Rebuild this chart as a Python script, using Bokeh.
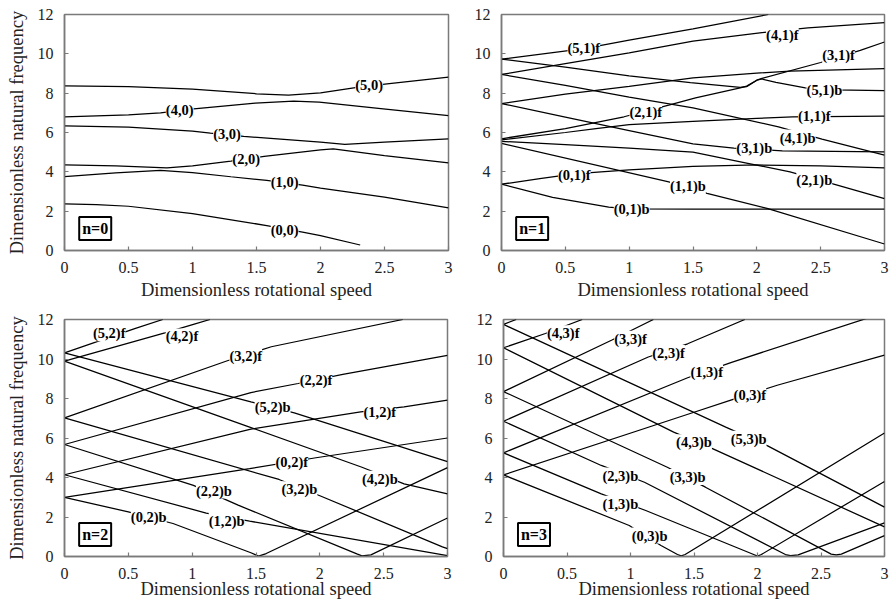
from bokeh.plotting import figure
from bokeh.models import Range1d, NumeralTickFormatter, ColumnDataSource, LabelSet, Label
from bokeh.layouts import row, column
from bokeh.embed import file_html
from bokeh.resources import INLINE

SERIF = "Liberation Serif"
FRAME = "#7a7a7a"

X_TICKS = [0, 0.5, 1, 1.5, 2, 2.5, 3]
Y_TICKS = [0, 2, 4, 6, 8, 10, 12]
X_TITLE = "Dimensionless rotational speed"
Y_TITLE = "Dimensionless natural frequency"

# ---------------- n = 0 ----------------
n0_00_x = [0, 0.25, 0.5, 1.0, 1.58, 1.86, 2.0, 2.31]
n0_00_y = [2.37, 2.33, 2.25, 1.87, 1.27, 0.93, 0.76, 0.28]
n0_10_x = [0, 0.4, 0.75, 1.0, 1.3, 1.58, 1.86, 2.0, 2.5, 3.0]
n0_10_y = [3.76, 3.95, 4.07, 3.96, 3.75, 3.56, 3.33, 3.17, 2.71, 2.17]
n0_20_x = [0, 0.4, 0.8, 1.0, 1.3, 1.56, 2.0, 2.1, 2.5, 3.0]
n0_20_y = [4.36, 4.3, 4.2, 4.3, 4.55, 4.78, 5.12, 5.17, 4.83, 4.46]
n0_30_x = [0, 0.5, 1.0, 1.14, 1.4, 2.0, 2.19, 2.5, 3.0]
n0_30_y = [6.34, 6.27, 6.07, 5.97, 5.8, 5.51, 5.39, 5.51, 5.68]
n0_40_x = [0, 0.5, 0.75, 1.01, 1.49, 1.79, 1.99, 2.49, 3.0]
n0_40_y = [6.8, 6.9, 7.0, 7.2, 7.49, 7.59, 7.54, 7.2, 6.86]
n0_50_x = [0, 0.5, 1.0, 1.5, 1.75, 2.0, 2.26, 2.52, 3.0]
n0_50_y = [8.37, 8.33, 8.2, 7.97, 7.9, 8.02, 8.27, 8.47, 8.81]
n0_lbl_text = ["(5,0)", "(4,0)", "(3,0)", "(2,0)", "(1,0)", "(0,0)"]
n0_lbl_x = [2.38, 0.9, 1.27, 1.42, 1.72, 1.72]
n0_lbl_y = [8.39, 7.12, 5.93, 4.63, 3.47, 1.05]

# ---------------- n = 1 ----------------
n1_51f_x = [0, 0.645, 1.0, 1.5, 2.09]
n1_51f_y = [9.73, 10.27, 10.7, 11.27, 12.0]
n1_41f_x = [0, 0.5, 1.0, 1.5, 2.04, 2.4, 3.0]
n1_41f_y = [8.95, 9.5, 10.05, 10.65, 11.08, 11.32, 11.59]
n1_21f_x = [0, 0.5, 0.96, 1.31, 1.52, 1.87, 1.92, 2.0, 2.04, 2.5, 2.81, 3.0]
n1_21f_y = [5.68, 6.2, 6.8, 7.39, 7.76, 8.27, 8.36, 8.66, 8.75, 9.56, 10.18, 10.6]
n1_31f_x = [0, 0.5, 1.0, 1.5, 2.0, 2.26, 3.0]
n1_31f_y = [7.47, 7.95, 8.35, 8.78, 9.02, 9.12, 9.25]
n1_51b_x = [0, 0.5, 1.0, 1.48, 1.87, 1.92, 2.0, 2.04, 2.15, 2.38, 2.6, 3.0]
n1_51b_y = [9.73, 9.33, 8.88, 8.54, 8.29, 8.33, 8.66, 8.72, 8.55, 8.27, 8.17, 8.13]
n1_41b_x = [0, 0.5, 1.0, 1.5, 2.17, 2.51, 3.0]
n1_41b_y = [8.95, 8.4, 7.8, 7.25, 6.29, 5.66, 4.85]
n1_31b_x = [0, 0.5, 1.0, 1.5, 1.82, 2.2, 3.0]
n1_31b_y = [7.47, 6.78, 6.1, 5.42, 5.2, 5.07, 5.02]
n1_11f_x = [0, 0.5, 0.74, 1.0, 1.5, 2.0, 2.28, 3.0]
n1_11f_y = [5.62, 6.0, 6.2, 6.4, 6.56, 6.72, 6.8, 6.83]
n1_21b_x = [0, 0.5, 1.0, 1.5, 1.91, 2.26, 2.63, 3.0]
n1_21b_y = [5.55, 5.38, 5.2, 5.0, 4.46, 4.0, 3.32, 2.64]
n1_11b_x = [0, 1.31, 1.61, 2.08, 3.0]
n1_11b_y = [5.45, 3.49, 2.9, 2.14, 0.33]
n1_01f_x = [0, 0.3, 0.57, 0.78, 1.0, 1.5, 2.0, 2.5, 3.0]
n1_01f_y = [3.37, 3.65, 3.9, 4.0, 4.1, 4.28, 4.35, 4.3, 4.2]
n1_01b_x = [0, 0.4, 0.84, 1.0, 1.5, 2.0, 3.0]
n1_01b_y = [3.37, 2.7, 2.2, 2.12, 2.1, 2.1, 2.1]
n1_lbl_text = ["(5,1)f", "(4,1)f", "(3,1)f", "(2,1)f", "(1,1)f", "(0,1)f",
               "(5,1)b", "(4,1)b", "(3,1)b", "(2,1)b", "(1,1)b", "(0,1)b"]
n1_lbl_x = [0.645, 2.2, 2.64, 1.13, 2.45, 0.57, 2.53, 2.32, 1.98, 2.45, 1.46, 1.02]
n1_lbl_y = [10.3, 10.98, 9.93, 7.02, 6.83, 3.86, 8.18, 5.74, 5.19, 3.58, 3.27, 2.12]

# ---------------- n = 2 ----------------
n2_52f_x = [0, 0.55, 0.77]
n2_52f_y = [10.31, 11.54, 12.0]
n2_42f_x = [0, 0.786, 1.01, 1.14]
n2_42f_y = [9.89, 11.32, 11.75, 12.0]
n2_32f_x = [0, 1.27, 1.62, 2.65]
n2_32f_y = [7.02, 9.9, 10.62, 12.0]
n2_22f_x = [0, 1.46, 1.83, 2.18, 3.0]
n2_22f_y = [5.67, 8.3, 8.76, 9.22, 10.18]
n2_12f_x = [0, 1.46, 2.32, 2.66, 3.0]
n2_12f_y = [4.14, 6.45, 7.32, 7.58, 7.92]
n2_02f_x = [0, 1.45, 1.97, 3.0]
n2_02f_y = [2.99, 4.45, 5.0, 6.0]
n2_52b_x = [0, 1.46, 1.8, 3.0]
n2_52b_y = [10.31, 7.83, 7.27, 4.8]
n2_42b_x = [0, 1.45, 2.33, 2.66, 3.0]
n2_42b_y = [9.89, 6.55, 4.52, 3.68, 3.17]
n2_32b_x = [0, 1.68, 2.01, 2.96, 3.0]
n2_32b_y = [7.02, 3.9, 3.05, 0.49, 0.4]
n2_22b_x = [0, 1.01, 1.36, 2.29, 2.33, 2.4, 3.0]
n2_22b_y = [5.67, 3.6, 2.6, 0.13, 0.03, 0.08, 1.95]
n2_12b_x = [0, 1.11, 1.45, 3.0]
n2_12b_y = [4.14, 2.2, 1.79, 0.05]
n2_02b_x = [0, 0.5, 0.85, 1.46, 1.52, 1.58, 3.0]
n2_02b_y = [2.99, 2.26, 1.67, 0.19, 0.02, 0.15, 4.5]
n2_lbl_text = ["(5,2)f", "(4,2)f", "(3,2)f", "(2,2)f", "(1,2)f", "(0,2)f",
               "(5,2)b", "(4,2)b", "(3,2)b", "(2,2)b", "(1,2)b", "(0,2)b"]
n2_lbl_x = [0.35, 0.92, 1.42, 1.97, 2.47, 1.78, 1.63, 2.47, 1.84, 1.17, 1.27, 0.66]
n2_lbl_y = [11.3, 11.14, 10.13, 8.92, 7.34, 4.79, 7.58, 3.94, 3.4, 3.34, 1.8, 2.0]

# ---------------- n = 3 ----------------
n3_53f_x = [0, 0.1]
n3_53f_y = [11.75, 12.0]
n3_43f_x = [0, 0.33, 0.62]
n3_43f_y = [10.57, 11.29, 12.0]
n3_33f_x = [0, 0.85, 1.18]
n3_33f_y = [8.35, 10.95, 12.0]
n3_23f_x = [0, 1.14, 1.45, 1.9]
n3_23f_y = [6.85, 10.1, 10.77, 12.0]
n3_13f_x = [0, 1.45, 1.79, 3.0]
n3_13f_y = [5.25, 9.05, 9.82, 12.35]
n3_03f_x = [0, 1.47, 1.79, 2.155, 3.0]
n3_03f_y = [4.13, 7.24, 7.92, 8.67, 10.2]
n3_53b_x = [0, 1.75, 2.08, 3.0]
n3_53b_y = [11.75, 6.55, 5.6, 2.5]
n3_43b_x = [0, 1.34, 1.65, 3.0]
n3_43b_y = [10.57, 6.3, 5.45, 1.5]
n3_33b_x = [0, 1.29, 1.59, 2.58, 2.62, 2.66, 3.0]
n3_33b_y = [8.35, 4.52, 3.51, 0.12, 0.08, 0.12, 1.06]
n3_23b_x = [0, 0.77, 1.11, 2.22, 2.26, 2.32, 3.0]
n3_23b_y = [6.85, 4.61, 3.76, 0.1, 0.05, 0.08, 1.7]
n3_13b_x = [0, 0.77, 1.12, 1.97, 2.0, 2.03, 3.0]
n3_13b_y = [5.25, 3.17, 2.33, 0.1, 0.02, 0.1, 3.8]
n3_03b_x = [0, 0.99, 1.24, 1.37, 1.4, 1.43, 3.0]
n3_03b_y = [4.13, 1.57, 0.56, 0.1, 0.03, 0.1, 6.25]
n3_lbl_text = ["(4,3)f", "(3,3)f", "(2,3)f", "(1,3)f", "(0,3)f",
               "(5,3)b", "(4,3)b", "(3,3)b", "(2,3)b", "(1,3)b", "(0,3)b"]
n3_lbl_x = [0.47, 1.0, 1.3, 1.6, 1.94, 1.93, 1.5, 1.45, 0.92, 0.92, 1.15]
n3_lbl_y = [11.3, 11.03, 10.3, 9.33, 8.2, 5.96, 5.79, 4.02, 4.1, 2.67, 1.06]

n_box_text = ["n=0", "n=1", "n=2", "n=3"]
n_box_x = 0.24
n_box_y = 1.12


def make_panel(curves, lbl_x, lbl_y, lbl_text, box_text, width, height,
               b_left, b_right, b_top, b_bottom, y_title, title_standoff):
    p = figure(width=width, height=height,
               x_range=Range1d(0, 3), y_range=Range1d(0, 12),
               output_backend="svg", toolbar_location=None,
               min_border_left=b_left, min_border_right=b_right,
               min_border_top=b_top, min_border_bottom=b_bottom)
    p.grid.visible = False
    p.outline_line_color = FRAME
    p.outline_line_width = 1.5
    p.background_fill_color = "white"
    p.border_fill_color = "white"
    for xs, ys in curves:
        p.line(xs, ys, line_color="black", line_width=1.25)

    for ax in (p.xaxis[0], p.yaxis[0]):
        ax.major_tick_in = 4
        ax.major_tick_out = 0
        ax.minor_tick_line_color = None
        ax.axis_line_color = FRAME
        ax.axis_line_width = 1.5
        ax.major_tick_line_color = FRAME
        ax.major_tick_line_width = 1.2
        ax.major_label_text_font = SERIF
        ax.major_label_text_font_style = "normal"
        ax.major_label_text_font_size = "16px"
        ax.major_label_text_color = "#222222"
        ax.axis_label_text_font = SERIF
        ax.axis_label_text_font_style = "normal"
        ax.axis_label_text_font_size = "18.5px"
        ax.axis_label_text_color = "#222222"
        ax.formatter = NumeralTickFormatter(format="0.[0]")
        ax.major_label_standoff = 11
    p.xaxis.ticker = X_TICKS
    p.yaxis.ticker = Y_TICKS
    p.xaxis.axis_label = X_TITLE
    p.xaxis.axis_label_standoff = title_standoff
    if y_title:
        p.yaxis.axis_label = Y_TITLE
        p.yaxis.axis_label_standoff = 8

    src = ColumnDataSource(dict(x=lbl_x, y=lbl_y, text=lbl_text))
    p.add_layout(LabelSet(x="x", y="y", text="text", source=src,
                          text_font=SERIF, text_font_style="bold",
                          text_font_size="14.5px", text_color="black",
                          text_align="center", text_baseline="middle",
                          background_fill_color="white"))
    p.add_layout(Label(x=n_box_x, y=n_box_y, text=box_text,
                       text_font=SERIF, text_font_style="bold",
                       text_font_size="16px", text_color="black",
                       text_align="center", text_baseline="middle",
                       background_fill_color="white",
                       border_line_color="black", border_line_width=2,
                       padding=3))
    return p


curves0 = [(n0_00_x, n0_00_y), (n0_10_x, n0_10_y), (n0_20_x, n0_20_y),
           (n0_30_x, n0_30_y), (n0_40_x, n0_40_y), (n0_50_x, n0_50_y)]
curves1 = [(n1_51f_x, n1_51f_y), (n1_41f_x, n1_41f_y), (n1_21f_x, n1_21f_y),
           (n1_31f_x, n1_31f_y), (n1_51b_x, n1_51b_y), (n1_41b_x, n1_41b_y),
           (n1_31b_x, n1_31b_y), (n1_11f_x, n1_11f_y), (n1_21b_x, n1_21b_y),
           (n1_11b_x, n1_11b_y), (n1_01f_x, n1_01f_y), (n1_01b_x, n1_01b_y)]
curves2 = [(n2_52f_x, n2_52f_y), (n2_42f_x, n2_42f_y), (n2_32f_x, n2_32f_y),
           (n2_22f_x, n2_22f_y), (n2_12f_x, n2_12f_y), (n2_02f_x, n2_02f_y),
           (n2_52b_x, n2_52b_y), (n2_42b_x, n2_42b_y), (n2_32b_x, n2_32b_y),
           (n2_22b_x, n2_22b_y), (n2_12b_x, n2_12b_y), (n2_02b_x, n2_02b_y)]
curves3 = [(n3_53f_x, n3_53f_y), (n3_43f_x, n3_43f_y), (n3_33f_x, n3_33f_y),
           (n3_23f_x, n3_23f_y), (n3_13f_x, n3_13f_y), (n3_03f_x, n3_03f_y),
           (n3_53b_x, n3_53b_y), (n3_43b_x, n3_43b_y), (n3_33b_x, n3_33b_y),
           (n3_23b_x, n3_23b_y), (n3_13b_x, n3_13b_y), (n3_03b_x, n3_03b_y)]

p0 = make_panel(curves0, n0_lbl_x, n0_lbl_y, n0_lbl_text, n_box_text[0],
                460, 306, 64, 12, 14, 56, True, 4)
p1 = make_panel(curves1, n1_lbl_x, n1_lbl_y, n1_lbl_text, n_box_text[1],
                434, 306, 41, 10, 14, 56, False, 4)
p2 = make_panel(curves2, n2_lbl_x, n2_lbl_y, n2_lbl_text, n_box_text[2],
                460, 301, 64, 13, 13, 51, True, -3)
p3 = make_panel(curves3, n3_lbl_x, n3_lbl_y, n3_lbl_text, n_box_text[3],
                434, 301, 43, 10, 13, 51, False, -3)

layout = column(row(p0, p1), row(p2, p3))
open("out.html", "w").write(file_html(layout, INLINE))
